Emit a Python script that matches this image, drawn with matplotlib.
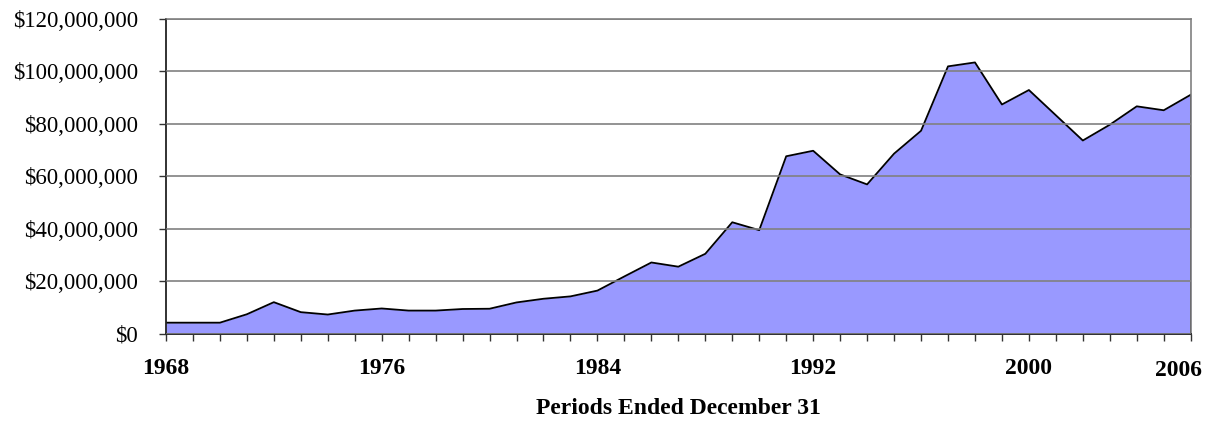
import matplotlib
matplotlib.use("Agg")
import matplotlib.pyplot as plt
import matplotlib.ticker as mticker
import numpy as np

plt.rcParams['font.family'] = ['Liberation Serif', 'DejaVu Serif']

# values, in dollars
years = np.arange(1968, 2007)
values = np.array([
    4.3, 4.3, 4.3, 7.5, 12.1, 8.3, 7.4, 8.9, 9.7, 8.9,
    8.9, 9.5, 9.6, 12.0, 13.4, 14.3, 16.5, 21.9, 27.2, 25.6,
    30.5, 42.5, 39.5, 67.6, 69.7, 60.7, 56.9, 68.6, 77.3, 101.8,
    103.3, 87.3, 92.8, 83.2, 73.6, 79.6, 86.6, 85.1, 91.0,
]) * 1e6

label_years = [1968, 1976, 1984, 1992, 2000]
y_ticks = np.arange(0, 120e6 + 1, 20e6)

fig = plt.figure(figsize=(12.07, 4.21), dpi=100)
ax = fig.add_axes([0.1375, 0.2067, 0.849, 0.7493])

ax.fill_between(years, values, 0, color='#9999FF', linewidth=0)
ax.plot(years, values, color='black', linewidth=1.3)
ax.plot([years[-1], years[-1]], [0, values[-1]], color='black', linewidth=1.3)

ax.set_xlim(years[0], years[-1])
ax.set_ylim(0, 120e6)

ax.set_yticks(y_ticks)
ax.yaxis.set_major_formatter(mticker.FuncFormatter(lambda v, p: '${:,.0f}'.format(v)))
ax.yaxis.grid(True, color='#808080', linewidth=1.2)
ax.set_axisbelow(False)

ax.set_xticks(label_years)
ax.set_xticklabels([str(y) for y in label_years], fontweight='bold')
ax.set_xticks(years, minor=True)

ax.tick_params(axis='y', direction='out', length=5, width=1, color='#333333',
               labelsize=16.5, pad=15)
ax.tick_params(axis='x', which='both', direction='out', length=5, width=1,
               color='#333333', labelsize=17, pad=12)

for s in ['top', 'right']:
    ax.spines[s].set_color('#808080')
    ax.spines[s].set_linewidth(1.2)
for s in ['left', 'bottom']:
    ax.spines[s].set_color('#222222')
    ax.spines[s].set_linewidth(1.3)

# last year label sits a little lower and left
ax.annotate(str(years[-1]), xy=(years[-1], 0), xycoords='data',
            xytext=(-9, -19), textcoords='offset points',
            ha='center', va='top', fontsize=17, fontweight='bold')

ax.set_xlabel('Periods Ended December 31', fontsize=17, fontweight='bold',
              labelpad=14)

fig.savefig('out.png', dpi=100)
